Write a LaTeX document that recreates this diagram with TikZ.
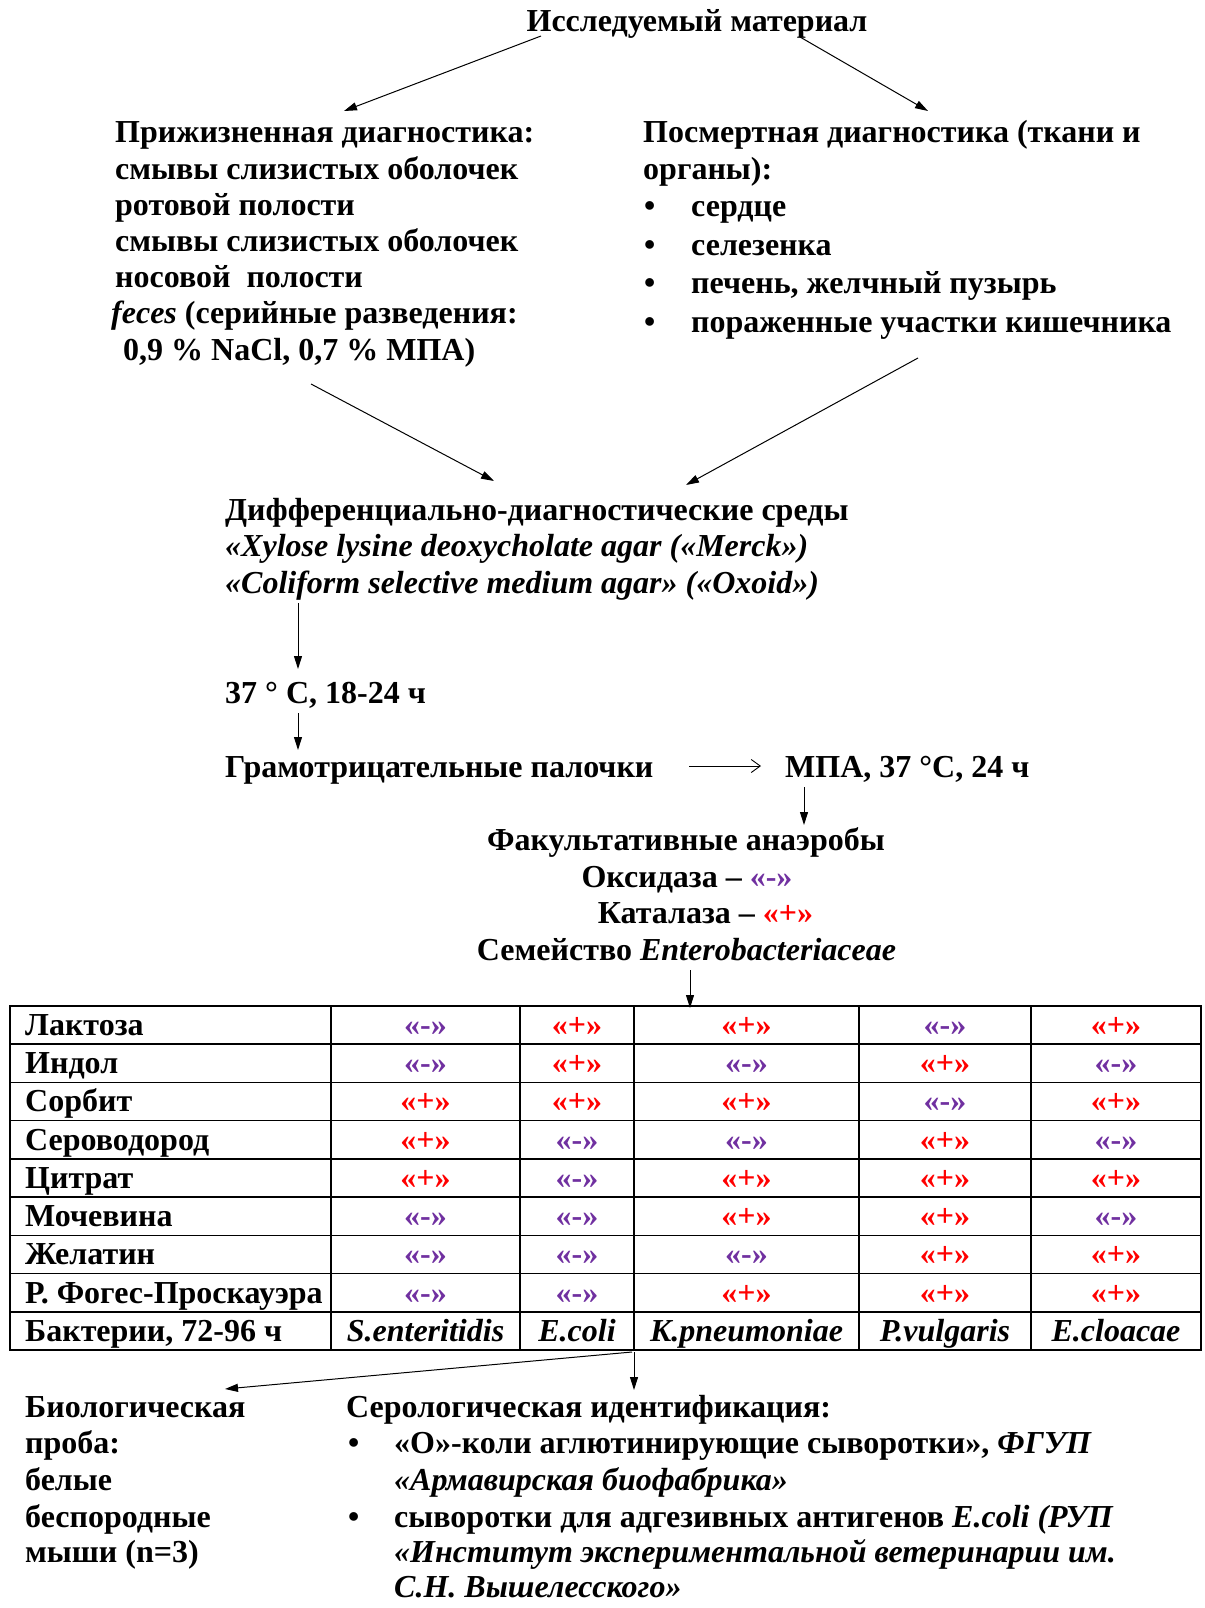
\documentclass[tikz,border=0pt]{standalone}
\usepackage{fontspec}
\setmainfont{Liberation Serif}
\usepackage{tikz}
\usetikzlibrary{arrows.meta}
\definecolor{neg}{HTML}{7030A0}
\definecolor{pos}{HTML}{FF0000}
\newcommand{\resn}{\textcolor{neg}{«-»}}
\newcommand{\resp}{\textcolor{pos}{«+»}}

\begin{document}
\begin{tikzpicture}[x=1pt, y=-1pt,
    txt/.style={font=\fontsize{32}{36}\selectfont\bfseries, inner sep=0pt, anchor=base west},
    ctxt/.style={txt, anchor=base},
    arr/.style={-{Triangle[length=13pt,width=8pt]}, line width=1pt},
    thinarr/.style={-{Straight Barb[length=9pt,width=13pt]}, line width=0.9pt},
    grid/.style={line width=1.6pt}]

    \useasboundingbox (0,0) rectangle (1204,1608);

    % material
    \node[ctxt] (title) at (697,32) {Исследуемый материал};

    % left branch
    \node[txt] (life1) at (115,143) {Прижизненная диагностика:};
    \node[txt] (life2) at (115,179) {смывы слизистых оболочек};
    \node[txt] (life3) at (115,215) {ротовой полости};
    \node[txt] (life4) at (115,251.5) {смывы слизистых оболочек};
    \node[txt] (life5) at (115,287.5) {носовой\ \ полости};
    \node[txt] (life6) at (111,323.5) {\textit{feces} (серийные разведения:};
    \node[txt] (life7) at (123,360) {0,9 \% NaCl, 0,7 \% МПА)};

    % right branch
    \node[txt] (post1) at (643,143) {Посмертная диагностика (ткани и};
    \node[txt] (post2) at (643,179) {органы):};
    \foreach \t [count=\i] in {сердце, селезенка, {печень, желчный пузырь}, пораженные участки кишечника}{
        \node[txt] (dot\i) at (644,178+38.5*\i) {•};
        \node[txt] (org\i) at (691,178+38.5*\i) {\t};
    }

    \coordinate (tl) at (541,36);
    \coordinate (tr) at (800,37);
    \coordinate (lifetop) at (344,111);
    \coordinate (posttop) at (928,111);
    \draw[arr] (tl) -- (lifetop);
    \draw[arr] (tr) -- (posttop);

    % media
    \node[txt] (media1) at (225,520) {Дифференциально-диагностические среды};
    \node[txt] (media2) at (225,556.5) {\textit{«Xylose lysine deoxycholate agar («Merck»)}};
    \node[txt] (media3) at (225,593) {\textit{«Coliform selective medium agar» («Oxoid»)}};

    \coordinate (lifebot) at (311,384);
    \coordinate (postbot) at (918,358);
    \coordinate (medial) at (494,481);
    \coordinate (mediar) at (686,485);
    \draw[arr] (lifebot) -- (medial);
    \draw[arr] (postbot) -- (mediar);

    \node[txt] (incub) at (225,703) {37 ° С, 18-24 ч};
    \node[txt] (gram) at (225,777) {Грамотрицательные палочки};
    \node[txt] (mpa) at (785,777) {МПА, 37 °С, 24 ч};

    \draw[arr] (298,603) -- (298,669);
    \draw[arr] (298,713) -- (298,750);
    \draw[thinarr] (689,766) -- (761,766);
    \draw[arr] (804,787) -- (804,825);

    \node[ctxt] (facult) at (686,850) {Факультативные анаэробы};
    \node[ctxt] (oxid) at (687,887) {Оксидаза – \resn};
    \node[ctxt] (catal) at (705.5,923) {Каталаза – \resp};
    \node[ctxt] (family) at (686.5,960) {Семейство \textit{Enterobacteriaceae}};

    \draw[arr] (690,970) -- (690,1008);

    % table
    \draw[grid] (10,1006) rectangle (1201,1350);
    \foreach \r in {1,...,8}
        \draw[grid] (10,1006+38.22*\r) -- (1201,1006+38.22*\r);
    \foreach \x in {331,520,634,859,1031}
        \draw[grid] (\x,1006) -- (\x,1350);

    \foreach \lab/\vals [count=\r] in {Лактоза/{n,p,p,n,p}, Индол/{n,p,n,p,n},
        Сорбит/{p,p,p,n,p}, Сероводород/{p,n,n,p,n}, Цитрат/{p,n,p,p,p},
        Мочевина/{n,n,p,p,n}, Желатин/{n,n,n,p,p}, Р. Фогес-Проскауэра/{n,n,p,p,p}}{
        \node[txt] (lab\r) at (25,1006+38.22*\r-8.7) {\lab};
        \foreach \v [count=\k] in \vals {
            \pgfmathsetmacro\cx{{425.5,577,746.5,945,1116}[\k-1]}
            \node[ctxt] (val\r-\k) at (\cx,1006+38.22*\r-8.7) {\csname res\v\endcsname};
        }
    }
    \node[txt] (lab9) at (25,1341.3) {Бактерии, 72-96 ч};
    \foreach \sp/\x [count=\k] in {S.enteritidis/425.5, E.coli/577, K.pneumoniae/746.5, P.vulgaris/945, E.cloacae/1116}
        \node[ctxt] (sp\k) at (\x,1341.3) {\textit{\sp}};

    % identification
    \node[txt] (bio1) at (25,1417) {Биологическая};
    \node[txt] (bio2) at (25,1453) {проба:};
    \node[txt] (bio3) at (25,1490) {белые};
    \node[txt] (bio4) at (25,1527) {беспородные};
    \node[txt] (bio5) at (25,1562) {мыши (n=3)};

    \node[txt] (sero1) at (346,1417) {Серологическая идентификация:};
    \node[txt] (sdot1) at (348,1453) {•};
    \node[txt] (sero2) at (394,1453) {«О»-коли аглютинирующие сыворотки», \textit{ФГУП}};
    \node[txt] (sero3) at (394,1490) {\textit{«Армавирская биофабрика»}};
    \node[txt] (sdot2) at (348,1527) {•};
    \node[txt] (sero4) at (394,1527) {сыворотки для адгезивных антигенов \textit{E.coli (РУП}};
    \node[txt] (sero5) at (394,1562) {\textit{«Институт экспериментальной ветеринарии им.}};
    \node[txt] (sero6) at (394,1597) {\textit{С.Н. Вышелесского»}};

    \coordinate (tabbot) at (632,1352);
    \coordinate (biotop) at (225,1389);
    \coordinate (serotop) at (634,1390);
    \draw[arr] (tabbot) -- (biotop);
    \draw[arr] (634,1352) -- (serotop);

\end{tikzpicture}
\end{document}
